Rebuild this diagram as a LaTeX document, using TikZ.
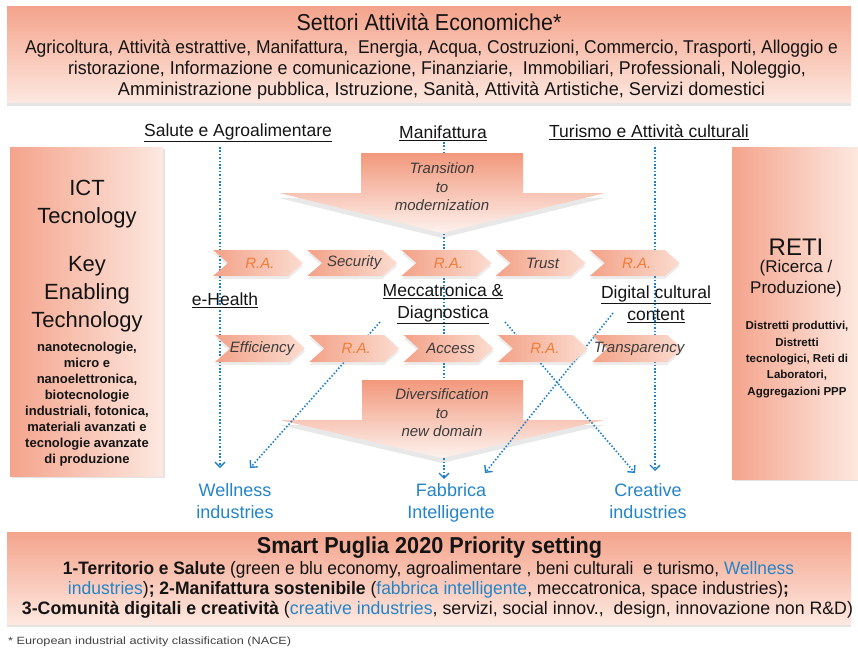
\documentclass[tikz,border=0pt]{standalone}
\usepackage{fontspec}
\setmainfont{Liberation Sans}
\usepackage{graphicx}
\usetikzlibrary{shadows,arrows.meta}
\definecolor{salD}{RGB}{244,164,140}
\definecolor{salL}{RGB}{253,232,224}
\definecolor{arrD}{RGB}{242,152,124}
\definecolor{arrL}{RGB}{253,242,238}
\definecolor{chD}{RGB}{243,162,136}
\definecolor{chL}{RGB}{251,220,208}
\definecolor{dblue}{RGB}{30,128,200}
\definecolor{tblue}{RGB}{36,132,200}
\definecolor{raor}{RGB}{240,125,55}
\definecolor{itgray}{RGB}{60,60,60}
\definecolor{txtc}{RGB}{20,20,20}
\newcommand\fsz[2]{\fontsize{#1}{#2}\selectfont}
\newcommand\fitw[2]{\resizebox{#1}{\height}{#2}}
\begin{document}
\begin{tikzpicture}[x=1pt,y=-1pt,
  txt/.style={inner sep=0pt, text=txtc},
  panelv/.style={top color=salD, bottom color=salL, drop shadow={opacity=0.22, shadow xshift=0pt, shadow yshift=-3pt}},
  panelh/.style={left color=salD, right color=salL, drop shadow={opacity=0.22, shadow xshift=2pt, shadow yshift=-2pt}},
  bigarrow/.style={top color=arrD, bottom color=arrL, drop shadow={opacity=0.18, shadow xshift=0pt, shadow yshift=-5pt}},
  chev/.style={left color=chD, right color=chL, drop shadow={opacity=0.15, shadow xshift=0pt, shadow yshift=-3pt}},
  dl/.style={draw=dblue, line width=1.6pt, dash pattern=on 1.5pt off 1.9pt},
  tipv/.style={-{Straight Barb[length=5pt,width=10pt,line width=1.4pt]}},
  itl/.style={inner sep=0pt, text=itgray, font=\fsz{15}{18.5}\itshape, align=center},
  lab/.style={inner sep=0pt, text=txtc, font=\fsz{17.5}{22}, align=center},
  blab/.style={inner sep=0pt, text=tblue, font=\fsz{18}{22}, align=center, anchor=north}
]
\useasboundingbox (0,0) rectangle (858,650);

% panels
\path[panelv] (7,7) rectangle (851,103);
\path[panelh] (10,147) rectangle (163,476);
\path[panelh] (732,147) rectangle (858,479);
\path[panelv] (7,532) rectangle (851,624);

% coordinates for connectors
\coordinate (s1) at (220,147);
\coordinate (s2) at (220,468);
\coordinate (m1) at (444,142);
\coordinate (m2) at (444,479);
\coordinate (t1) at (655,147);
\coordinate (t2) at (655,471);
\coordinate (d1a) at (380,322);
\coordinate (d1b) at (250,468);
\coordinate (d2a) at (505,322);
\coordinate (d2b) at (635,473);
\coordinate (d3a) at (613,313);
\coordinate (d3b) at (485,473);

% vertical dotted connectors
\draw[dl,tipv] (s1) -- (s2);
\draw[dl,tipv] (m1) -- (m2);
\draw[dl,tipv] (t1) -- (t2);

% big arrows
\path[bigarrow] (361,153) -- (523,153) -- (523,193) -- (605,193) -- (442,233) -- (279,193) -- (361,193) -- cycle;
\path[bigarrow] (362,380) -- (523,380) -- (523,420) -- (604,420) -- (442,458) -- (280,420) -- (362,420) -- cycle;

% diagonal dotted connectors
\draw[dl,tipv] (d1a) -- (d1b);
\draw[dl,tipv] (d2a) -- (d2b);
\draw[dl,tipv] (d3a) -- (d3b);

% chevrons row 1
\foreach \i/\lab/\c in {0/R.A./raor, 1/Security/itgray, 2/R.A./raor, 3/Trust/itgray, 4/R.A./raor} {
  \pgfmathsetmacro\xo{213+94.2*\i}
  \path[chev] (\xo,250) -- ++(75,0) -- ++(15,13) -- ++(-15,13) -- ++(-75,0) -- ++(15,-13) -- cycle;
  \node[itl, text=\c] (ra\i) at (\xo+47,263) {\lab};
}
% chevrons row 2
\foreach \i/\lab/\c in {0/Efficiency/itgray, 1/R.A./raor, 2/Access/itgray, 3/R.A./raor, 4/Transparency/itgray} {
  \pgfmathsetmacro\xo{215+94.3*\i}
  \path[chev] (\xo,335) -- ++(75,0) -- ++(15,13.5) -- ++(-15,13.5) -- ++(-75,0) -- ++(15,-13.5) -- cycle;
  \node[itl, text=\c] (rb\i) at (\xo+47,348.5) {\lab};
}

% header text
\node[txt] (hdt) at (429,22) {\fitw{265pt}{\fsz{23}{26}Settori Attività Economiche*}};
\node[txt] (hd1) at (431.5,49) {\fitw{813pt}{\fsz{18.5}{21}Agricoltura, Attività estrattive, Manifattura,\ \ Energia, Acqua, Costruzioni, Commercio, Trasporti, Alloggio e}};
\node[txt] (hd2) at (437,70) {\fitw{738pt}{\fsz{18.5}{21}ristorazione, Informazione e comunicazione, Finanziarie,\ \ Immobiliari, Professionali, Noleggio,}};
\node[txt] (hd3) at (441.5,91) {\fitw{647pt}{\fsz{18.5}{21}Amministrazione pubblica, Istruzione, Sanità, Attività Artistiche, Servizi domestici}};

% sector labels
\node[lab] (sal) at (238,133) {\underline{Salute e Agroalimentare}};
\node[lab] (man) at (443,133) {\underline{Manifattura}};
\node[lab] (tur) at (649,132) {\underline{Turismo e Attività culturali}};
\node[lab] (ehe) at (225,300) {\underline{e-Health}};
\node[lab] (mec) at (443,304) {\underline{Meccatronica \&}\\\underline{Diagnostica}};
\node[lab] (dig) at (656,304) {\underline{Digital cultural}\\\underline{content}};

% big arrow texts
\node[itl] (trn) at (442,187) {Transition\\to\\modernization};
\node[itl] (div) at (442,413) {Diversification\\to\\new domain};

% targets
\node[blab] (wel) at (235,483) {Wellness\\industries};
\node[blab] (fab) at (451,483) {Fabbrica\\Intelligente};
\node[blab] (cre) at (648,483) {Creative\\industries};

% left panel text
\node[txt, align=center, font=\fsz{22}{28}] (ict) at (87,204) {ICT\\Tecnology};
\node[txt, align=center, font=\fsz{22}{28}] (ket) at (87,294) {Key\\Enabling\\Technology};
\node[txt, align=center, font=\fsz{13}{16}\bfseries] (ketl) at (87,404) {nanotecnologie,\\micro e\\nanoelettronica,\\biotecnologie\\industriali, fotonica,\\materiali avanzati e\\tecnologie avanzate\\di produzione};

% right panel text
\node[txt, font=\fsz{24}{28}] (reti) at (796,247) {RETI};
\node[txt, align=center, font=\fsz{17}{21}] (rp) at (796,279) {(Ricerca /\\Produzione)};
\node[txt, align=center, font=\fsz{11.5}{16.3}\bfseries] (rl) at (797,359.5) {Distretti produttivi,\\Distretti\\tecnologici, Reti di\\Laboratori,\\Aggregazioni PPP};

% bottom panel
\node[txt] (bt) at (429.5,548) {\fitw{345pt}{\fsz{23}{26}\bfseries Smart Puglia 2020 Priority setting}};
\node[txt] (b1) at (428.5,570) {\fitw{731pt}{\fsz{18}{20}\textbf{1-Territorio e Salute} (green e blu economy, agroalimentare , beni culturali\ \ e turismo, \textcolor{tblue}{Wellness}}};
\node[txt] (b2) at (428.5,590) {\fitw{721pt}{\fsz{18}{20}\textcolor{tblue}{industries})\textbf{; 2-Manifattura sostenibile} (\textcolor{tblue}{fabbrica intelligente}, meccatronica, space industries)\textbf{;}}};
\node[txt] (b3) at (437.5,610) {\fitw{831pt}{\fsz{18}{20}\textbf{3-Comunità digitali e creatività} (\textcolor{tblue}{creative industries}, servizi, social innov.,\ \ design, innovazione non R\&D)}};
\node[txt, anchor=west, text=black!75] (fn) at (8,642) {\fitw{283pt}{\fsz{10.5}{12}* European industrial activity classification (NACE)}};
\end{tikzpicture}
\end{document}
